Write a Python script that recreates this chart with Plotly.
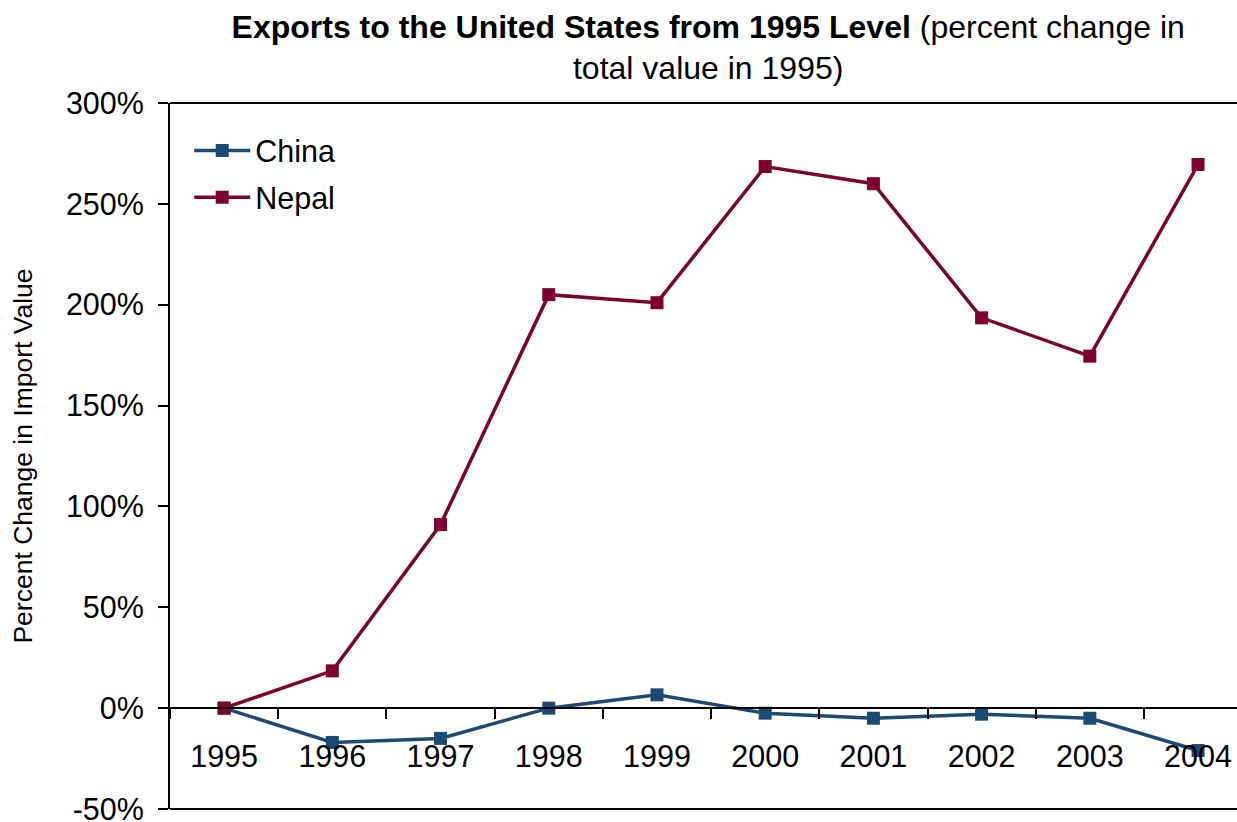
import plotly.graph_objects as go

# Export values, percent change relative to 1995
years = ["1995", "1996", "1997", "1998", "1999", "2000", "2001", "2002", "2003", "2004"]
china = [0, -17, -15, 0, 6.6, -2.5, -5, -3, -5, -21]
nepal = [0, 18.5, 91, 205, 201, 268.5, 260, 193.5, 174.5, 269.5]
y_ticks = [-50, 0, 50, 100, 150, 200, 250, 300]
y_tick_text = ["-50%", "0%", "50%", "100%", "150%", "200%", "250%", "300%"]

CHINA_COLOR = "#1B4B72"
NEPAL_COLOR = "#7E002F"
FONT = "Arial, Liberation Sans, sans-serif"

fig = go.Figure()
fig.add_trace(go.Scatter(
    x=years, y=china, name="China", mode="lines+markers",
    line=dict(color=CHINA_COLOR, width=3.5),
    marker=dict(symbol="square", size=13, color=CHINA_COLOR),
    legendgroup="a",
))
fig.add_trace(go.Scatter(
    x=years, y=nepal, name="Nepal", mode="lines+markers",
    line=dict(color=NEPAL_COLOR, width=3.5),
    marker=dict(symbol="square", size=13, color=NEPAL_COLOR),
    legendgroup="b",
))

y_min, y_max = -50, 300
zero_pos = (0 - y_min) / (y_max - y_min)

fig.update_layout(
    width=1237, height=822,
    margin=dict(l=170, r=0, t=103, b=13, autoexpand=False),
    paper_bgcolor="white", plot_bgcolor="white",
    font=dict(family=FONT, size=30, color="black"),
    title=dict(
        text="<b>Exports to the United States from 1995 Level</b> (percent change in<br>total value in 1995)",
        x=0.5725, xanchor="center", y=0.954, yanchor="top",
        font=dict(size=32),
    ),
    showlegend=True,
    legend=dict(
        x=0.018, y=0.97, xanchor="left", yanchor="top",
        bgcolor="rgba(0,0,0,0)", font=dict(size=30.5),
        itemwidth=56, tracegroupgap=4,
    ),
    xaxis=dict(
        type="category", range=[-0.5, 9.36],
        anchor="free", position=zero_pos, automargin=False,
        showline=True, linecolor="black", linewidth=2,
        ticks="outside", tickson="boundaries", ticklen=10, tickwidth=2, tickcolor="black",
        showgrid=False, zeroline=False,
        ticklabelstandoff=21,
        tickfont=dict(size=30.5),
    ),
    yaxis=dict(
        range=[y_min, y_max], tickmode="array", tickvals=y_ticks, ticktext=y_tick_text,
        ticklabeloverflow="allow", automargin=False,
        showline=True, linecolor="black", linewidth=2,
        ticks="outside", ticklen=10, tickwidth=2, tickcolor="black",
        showgrid=False, zeroline=True, zerolinecolor="black", zerolinewidth=2,
        tickfont=dict(size=30.5),
        ticklabelstandoff=8,
        title=dict(text="Percent Change in Import Value", font=dict(size=26.5), standoff=26),
    ),
)

# Plot-area border lines along the top and bottom
for yv in (0, 1):
    fig.add_shape(type="line", xref="paper", yref="paper", x0=0, x1=1, y0=yv, y1=yv,
                  line=dict(color="black", width=2), layer="below")

fig.write_html("out.html")
